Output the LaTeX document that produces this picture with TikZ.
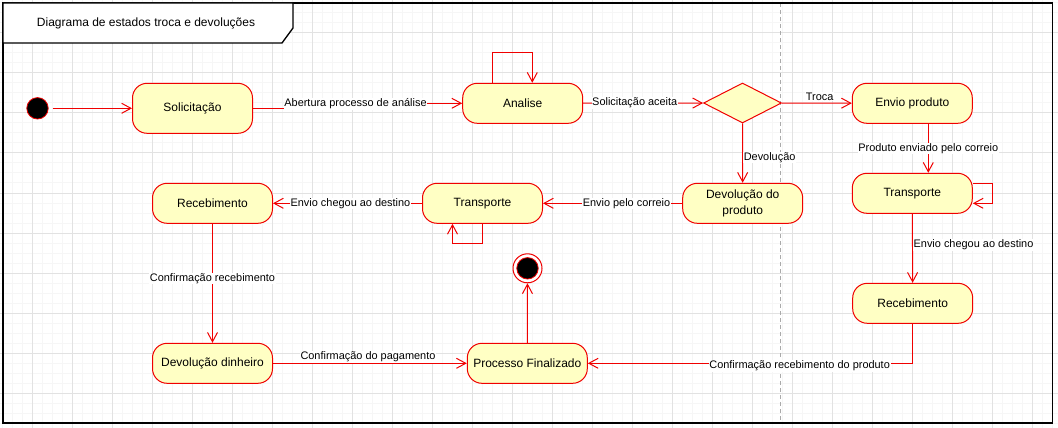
\documentclass[tikz,border=0pt]{standalone}
\usepackage{fontspec}
\setmainfont{Liberation Sans}
\usepackage{tikz}
\usetikzlibrary{arrows.meta}
\usetikzlibrary{shapes.geometric}

\definecolor{estadofill}{RGB}{255,255,196}
\definecolor{estadoborda}{RGB}{240,0,0}
\definecolor{gradefina}{RGB}{246,246,246}
\definecolor{gradegrossa}{RGB}{226,226,226}
\definecolor{tracejado}{RGB}{170,170,170}

\tikzset{
  estado/.style={draw=estadoborda, fill=estadofill, line width=0.75pt, rounded corners=11pt,
    minimum width=90pt, minimum height=30pt, inner sep=2pt, align=center,
    font=\fontsize{9}{12}\selectfont},
  decisao/.style={diamond, draw=estadoborda, fill=estadofill, line width=0.75pt,
    minimum width=58.5pt, minimum height=30pt, inner sep=0pt},
  pontoini/.style={circle, draw=estadoborda, fill=black, line width=0.6pt,
    minimum size=16.1pt, inner sep=0pt},
  fimext/.style={circle, draw=estadoborda, fill=white, line width=0.75pt,
    minimum size=21.75pt, inner sep=0pt},
  transicao/.style={draw=estadoborda, line width=0.75pt, -{Straight Barb[length=7pt,width=7.5pt]}},
  rotulo/.style={fill=white, inner sep=0.5pt, font=\fontsize{8.2}{10}\selectfont},
  moldura/.style={draw=black, line width=1pt},
}

\begin{document}
\begin{tikzpicture}[x=0.75pt, y=-0.75pt]

\useasboundingbox (0,0) rectangle (1058,428);

% grade de fundo
\foreach \gx in {2,12,...,1052} \draw[gradefina, line width=0.75pt] (\gx,0) -- (\gx,428);
\foreach \gy in {3,13,...,423} \draw[gradefina, line width=0.75pt] (0,\gy) -- (1058,\gy);
\foreach \gx in {32,72,...,1032} \draw[gradegrossa, line width=0.75pt] (\gx,0) -- (\gx,428);
\foreach \gy in {33,73,...,393} \draw[gradegrossa, line width=0.75pt] (0,\gy) -- (1058,\gy);

% divisao
\draw[tracejado, line width=0.75pt, dash pattern=on 3pt off 2.25pt] (780,3) -- (780,423);

% moldura e titulo
\draw[moldura] (3,3) rectangle (1052.5,423);
\draw[moldura, fill=white] (3,3) -- (293,3) -- (293,28) -- (282,43) -- (3,43) -- cycle;
\node[font=\fontsize{9}{12}\selectfont] (titulo) at (146,23.5) {Diagrama de estados troca e devoluções};

% estados
\node[pontoini] (inicio) at (37.5,108.3) {};
\node[estado, minimum height=37.5pt] (solic) at (192.5,108.3) {Solicitação};
\node[estado] (analise) at (522.7,103.3) {Analise};
\node[decisao] (decisao) at (742.5,103) {};
\node[estado] (envio) at (912.3,103.3) {Envio produto};
\node[estado] (devprod) at (742.7,203.3) {Devolução do\\produto};
\node[estado] (transp2) at (912.3,193.3) {Transporte};
\node[estado] (receb2) at (912.7,303.3) {Recebimento};
\node[estado] (transp1) at (482.5,203.3) {Transporte};
\node[estado] (receb1) at (212.5,203.3) {Recebimento};
\node[estado] (devdin) at (212.5,363.3) {Devolução dinheiro};
\node[estado] (procfin) at (527.3,363.3) {Processo Finalizado};
\node[fimext] (fim) at (527.5,268.3) {};
\node[pontoini] (fimint) at (fim) {};

% transicoes
\draw[transicao, shorten <=3pt] (inicio) -- (solic);

\coordinate (dobraA) at (355,108.3);
\coordinate (dobraB) at (355,103.3);
\draw[transicao] (solic) -- (dobraA) -- (dobraB) -- (analise);
\node[rotulo] (rotabertura) at (355.5,104) {Abertura processo de análise};

\draw[transicao] ([xshift=-22.8pt]analise.north) -- ++(0,22.5pt) -| ([xshift=7.2pt]analise.north);
\draw[transicao] (analise) -- (decisao) node[rotulo, pos=0.43] {Solicitação aceita};
\draw[transicao] (decisao) -- (envio) node[rotulo, above, pos=0.54, yshift=1pt] {Troca};
\draw[transicao] (decisao) -- (devprod) node[rotulo, right, pos=0.57] {Devolução};

\draw[transicao] ([xshift=12pt]envio.south) -- ([xshift=12pt]transp2.north)
  node[rotulo, pos=0.5] {Produto enviado pelo correio};
\draw[transicao] ([yshift=7.5pt]transp2.east) -- ++(15pt,0) |- ([yshift=-7.5pt]transp2.east);
\draw[transicao] (transp2) -- (receb2) node[rotulo, right, pos=0.45] {Envio chegou ao destino};
\draw[transicao] (receb2) |- (procfin)
  node[rotulo, pos=0.674, yshift=-2pt] {Confirmação recebimento do produto};
\draw[transicao] (procfin) -- (fim);

\draw[transicao] (devprod) -- (transp1) node[rotulo, pos=0.4] {Envio pelo correio};
\draw[transicao] (transp1.south) -- ++(0,-14.5pt) -| ([xshift=-22.5pt]transp1.south);
\draw[transicao] (transp1) -- (receb1) node[rotulo, pos=0.48] {Envio chegou ao destino};
\draw[transicao] (receb1) -- (devdin) node[rotulo, pos=0.46] {Confirmação recebimento};
\draw[transicao] (devdin) -- (procfin) node[rotulo, above, pos=0.49] {Confirmação do pagamento};

\end{tikzpicture}
\end{document}
